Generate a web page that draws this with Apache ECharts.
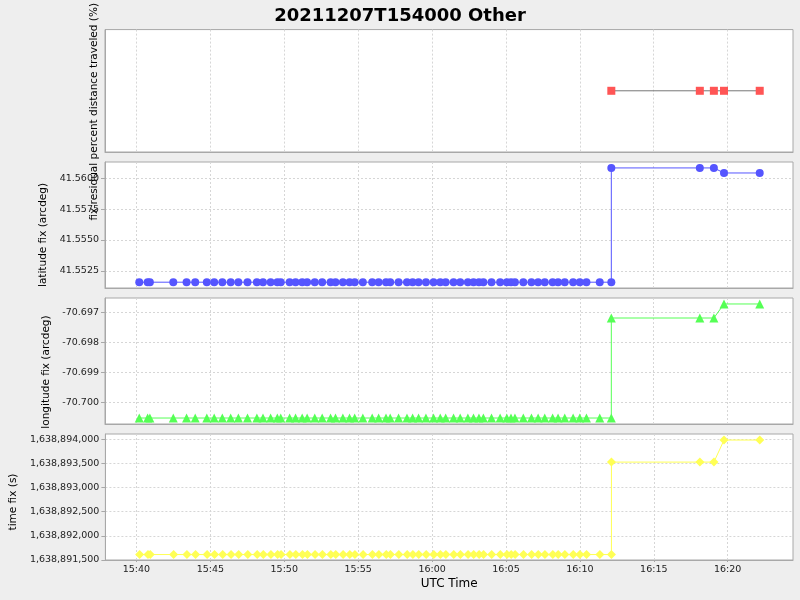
<!DOCTYPE html>
<html><head><meta charset="utf-8">
<script src="https://cdn.jsdelivr.net/npm/echarts@6/dist/echarts.min.js"></script>
<style>html,body{margin:0;padding:0;background:#eeeeee}#c{width:800px;height:600px}</style>
</head><body><div id="c"></div>
<script>
const chartTitle = '20211207T154000 Other';
const xName = 'UTC Time';
const yNames = ['fix residual percent distance traveled (%)', 'latitude fix (arcdeg)', 'longitude fix (arcdeg)', 'time fix (s)'];

// fix times (UTC, 2021-12-07)
const times = ['15:40:13','15:40:47','15:40:56','15:42:31','15:43:25','15:44:00','15:44:47','15:45:17','15:45:50','15:46:24',
'15:46:55','15:47:32','15:48:10','15:48:35','15:49:06','15:49:33','15:49:47','15:50:23','15:50:47','15:51:14',
'15:51:34','15:52:05','15:52:35','15:53:09','15:53:29','15:53:59','15:54:26','15:54:47','15:55:20','15:55:58',
'15:56:24','15:56:54','15:57:11','15:57:45','15:58:19','15:58:42','15:59:06','15:59:36','16:00:07','16:00:34',
'16:00:56','16:01:28','16:01:55','16:02:26','16:02:49','16:03:11','16:03:29','16:04:02','16:04:37','16:05:04',
'16:05:21','16:05:37','16:06:11','16:06:44','16:07:11','16:07:38','16:08:10','16:08:32','16:08:59','16:09:33',
'16:10:00','16:10:27','16:11:21','16:12:08',
'16:12:08','16:18:07','16:19:04','16:19:45','16:22:10'];

const latitude = [41.55158,41.55158,41.55158,41.55158,41.55158,41.55158,41.55158,41.55158,41.55158,41.55158,
41.55158,41.55158,41.55158,41.55158,41.55158,41.55158,41.55158,41.55158,41.55158,41.55158,
41.55158,41.55158,41.55158,41.55158,41.55158,41.55158,41.55158,41.55158,41.55158,41.55158,
41.55158,41.55158,41.55158,41.55158,41.55158,41.55158,41.55158,41.55158,41.55158,41.55158,
41.55158,41.55158,41.55158,41.55158,41.55158,41.55158,41.55158,41.55158,41.55158,41.55158,
41.55158,41.55158,41.55158,41.55158,41.55158,41.55158,41.55158,41.55158,41.55158,41.55158,
41.55158,41.55158,41.55158,41.55158,
41.56084,41.56084,41.56084,41.56043,41.56043];

const longitude = [-70.70053,-70.70053,-70.70053,-70.70053,-70.70053,-70.70053,-70.70053,-70.70053,-70.70053,-70.70053,
-70.70053,-70.70053,-70.70053,-70.70053,-70.70053,-70.70053,-70.70053,-70.70053,-70.70053,-70.70053,
-70.70053,-70.70053,-70.70053,-70.70053,-70.70053,-70.70053,-70.70053,-70.70053,-70.70053,-70.70053,
-70.70053,-70.70053,-70.70053,-70.70053,-70.70053,-70.70053,-70.70053,-70.70053,-70.70053,-70.70053,
-70.70053,-70.70053,-70.70053,-70.70053,-70.70053,-70.70053,-70.70053,-70.70053,-70.70053,-70.70053,
-70.70053,-70.70053,-70.70053,-70.70053,-70.70053,-70.70053,-70.70053,-70.70053,-70.70053,-70.70053,
-70.70053,-70.70053,-70.70053,-70.70053,
-70.69718,-70.69718,-70.69718,-70.69671,-70.69671];

const timeFix = [1638891613,1638891613,1638891613,1638891613,1638891613,1638891613,1638891613,1638891613,1638891613,1638891613,
1638891613,1638891613,1638891613,1638891613,1638891613,1638891613,1638891613,1638891613,1638891613,1638891613,
1638891613,1638891613,1638891613,1638891613,1638891613,1638891613,1638891613,1638891613,1638891613,1638891613,
1638891613,1638891613,1638891613,1638891613,1638891613,1638891613,1638891613,1638891613,1638891613,1638891613,
1638891613,1638891613,1638891613,1638891613,1638891613,1638891613,1638891613,1638891613,1638891613,1638891613,
1638891613,1638891613,1638891613,1638891613,1638891613,1638891613,1638891613,1638891613,1638891613,1638891613,
1638891613,1638891613,1638891613,1638891613,
1638893528,1638893528,1638893528,1638893985,1638893985];

const pctTimes = ['16:12:08','16:18:07','16:19:04','16:19:45','16:22:10'];
const pctValues = [0, 0, 0, 0, 0];

const xRange = ['15:37:54', '16:24:25'];
const xTicks = ['15:40','15:45','15:50','15:55','16:00','16:05','16:10','16:15','16:20'];
const pctRange = [-1, 1];
const latRange = [41.55111, 41.56132];
const latTicks = [41.5525, 41.5550, 41.5575, 41.5600];
const lonRange = [-70.70073, -70.69651];
const lonTicks = [-70.700, -70.699, -70.698, -70.697];
const tfRange = [1638891500, 1638894110];
const tfTicks = [1638891500, 1638892000, 1638892500, 1638893000, 1638893500, 1638894000];

function ts(s) { const p = s.split(':').map(Number); return Date.UTC(2021, 11, 7, p[0], p[1], p[2] || 0); }
function pad2(n) { return (n < 10 ? '0' : '') + n; }

const FONT = 'DejaVu Sans';
const gridTops = [26, 162, 298, 434];
const grids = gridTops.map(t => ({ left: 105, top: t, width: 688, height: 126, show: true, backgroundColor: '#ffffff', borderColor: '#a8a8a8', borderWidth: 1, containLabel: false }));
const gridLine = { show: true, lineStyle: { color: '#d6d6d6', type: [2, 2], width: 1 } };

const xTickVals = xTicks.map(ts);
const xAxes = gridTops.map((t, i) => ({
  type: 'value', gridIndex: i, min: ts(xRange[0]), max: ts(xRange[1]),
  axisLine: { show: true, onZero: false, lineStyle: { color: '#a8a8a8' } },
  axisTick: { show: i === 3, length: 2, customValues: xTickVals, lineStyle: { color: '#a8a8a8' } },
  axisLabel: { show: i === 3, customValues: xTickVals, margin: 5, fontFamily: FONT, fontSize: 9.5, color: '#222',
    formatter: v => { const d = new Date(v); return pad2(d.getUTCHours()) + ':' + pad2(d.getUTCMinutes()); } },
  splitLine: gridLine,
  name: i === 3 ? xName : '', nameLocation: 'middle', nameGap: 18,
  nameTextStyle: { fontFamily: FONT, fontSize: 12, color: '#000' }
}));

function yAxis(i, range, ticks, fmt, gap, shift, showGrid) {
  const ax = {
    type: 'value', gridIndex: i, min: range[0], max: range[1],
    axisLine: { show: true, onZero: false, lineStyle: { color: '#a8a8a8' } },
    axisTick: { show: !!ticks, length: 4, lineStyle: { color: '#a8a8a8' } },
    axisLabel: { show: !!ticks, margin: 6, fontFamily: FONT, fontSize: 9.5, color: '#222' },
    splitLine: showGrid ? gridLine : { show: false },
    name: yNames[i], nameLocation: 'middle', nameRotate: 90, nameGap: gap,
    nameTextStyle: { fontFamily: FONT, fontSize: 10.5, color: '#000', padding: [0, 2 * shift, 0, 0] }
  };
  if (ticks) {
    ax.axisTick.customValues = ticks;
    ax.axisLabel.customValues = ticks;
    ax.axisLabel.formatter = fmt;
  }
  return ax;
}
const yAxes = [
  yAxis(0, pctRange, null, null, 5, 21, false),
  yAxis(1, latRange, latTicks, v => v.toFixed(4), 52, 10, true),
  yAxis(2, lonRange, lonTicks, v => v.toFixed(3), 50, 11, true),
  yAxis(3, tfRange, tfTicks, v => Math.round(v).toLocaleString('en-US'), 82, 5, true)
];

function pairs(xs, ys) { return xs.map((x, k) => [ts(x), ys[k]]); }
function line(i, data, color, symbol, size, lineColor) {
  return { type: 'line', xAxisIndex: i, yAxisIndex: i, data, symbol, symbolSize: size, showSymbol: true,
    lineStyle: { color: lineColor || color, width: 1 }, itemStyle: { color }, emphasis: { disabled: true }, silent: true };
}

const chart = echarts.init(document.getElementById('c'), null, { renderer: 'canvas' });
chart.setOption({
  animation: false, backgroundColor: '#eeeeee',
  title: { text: chartTitle, left: 'center', top: 2, textStyle: { fontFamily: FONT, fontSize: 18, fontWeight: 'bold', color: '#000' } },
  grid: grids, xAxis: xAxes, yAxis: yAxes,
  series: [
    line(0, pairs(pctTimes, pctValues), '#ff5555', 'rect', 8, '#777777'),
    line(1, pairs(times, latitude), '#5555ff', 'circle', 8),
    line(2, pairs(times, longitude), '#55ff55', 'triangle', 9),
    line(3, pairs(times, timeFix), '#ffff55', 'diamond', 9)
  ]
});
</script></body></html>
